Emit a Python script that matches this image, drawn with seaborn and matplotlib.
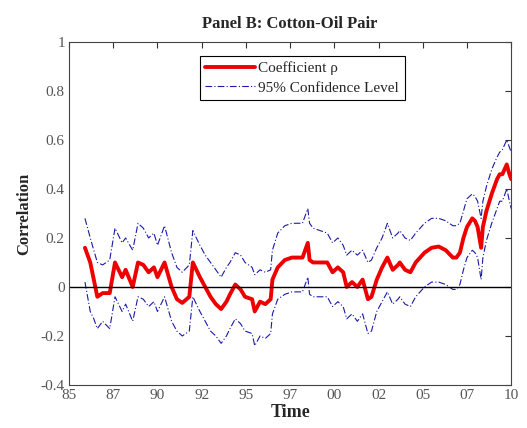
import numpy as np
import pandas as pd
import matplotlib
matplotlib.use("Agg")
import matplotlib.pyplot as plt
import seaborn as sns

# ---- data ----
years = [1985.9, 1986.2, 1986.4, 1986.6, 1986.9, 1987.3, 1987.6, 1988.0, 1988.2, 1988.6,
         1988.9, 1989.2, 1989.5, 1989.8, 1990.0, 1990.4, 1990.8, 1991.1, 1991.4, 1991.8,
         1992.0, 1992.4, 1992.7, 1993.0, 1993.3, 1993.6, 1993.9, 1994.1, 1994.4, 1994.7,
         1994.95, 1995.35, 1995.5, 1995.8, 1996.1, 1996.4, 1996.5, 1996.8, 1997.2, 1997.6,
         1998.2, 1998.5, 1998.6, 1998.8, 1999.6, 1999.9, 2000.2, 2000.5, 2000.7, 2001.0,
         2001.3, 2001.6, 2001.9, 2002.1, 2002.4, 2002.7, 2003.0, 2003.3, 2003.6, 2003.7,
         2004.0, 2004.3, 2004.6, 2004.85, 2005.1, 2005.5, 2005.9, 2006.3, 2006.7, 2006.9,
         2007.1, 2007.3, 2007.5, 2007.8, 2007.95, 2008.1, 2008.3, 2008.4, 2008.6, 2008.9,
         2009.2, 2009.35, 2009.5, 2009.75, 2009.9, 2010.0]
rho = [0.16, 0.10, 0.03, -0.04, -0.025, -0.025, 0.10, 0.04, 0.07, 0.0,
       0.10, 0.09, 0.06, 0.08, 0.04, 0.10, 0.0, -0.05, -0.065, -0.04,
       0.10, 0.04, 0.0, -0.04, -0.07, -0.09, -0.06, -0.03, 0.01, -0.01,
       -0.04, -0.05, -0.10, -0.06, -0.07, -0.05, 0.03, 0.08, 0.11, 0.12,
       0.12, 0.18, 0.11, 0.10, 0.10, 0.06, 0.08, 0.06, 0.0, 0.02,
       0.0, 0.03, -0.05, -0.04, 0.03, 0.08, 0.12, 0.07, 0.09, 0.10,
       0.07, 0.06, 0.10, 0.12, 0.14, 0.16, 0.165, 0.15, 0.12, 0.12,
       0.14, 0.20, 0.245, 0.28, 0.27, 0.245, 0.16, 0.245, 0.31, 0.38,
       0.44, 0.46, 0.46, 0.50, 0.46, 0.44]
upper = [0.28, 0.20, 0.15, 0.10, 0.09, 0.11, 0.24, 0.18, 0.20, 0.15,
         0.26, 0.24, 0.20, 0.22, 0.17, 0.25, 0.14, 0.08, 0.06, 0.09,
         0.23, 0.17, 0.13, 0.10, 0.07, 0.04, 0.08, 0.10, 0.14, 0.13,
         0.10, 0.08, 0.05, 0.07, 0.06, 0.07, 0.15, 0.22, 0.25, 0.26,
         0.26, 0.32, 0.26, 0.24, 0.22, 0.18, 0.20, 0.17, 0.13, 0.15,
         0.13, 0.15, 0.10, 0.11, 0.16, 0.20, 0.26, 0.20, 0.22, 0.23,
         0.20, 0.19, 0.22, 0.24, 0.26, 0.28, 0.28, 0.27, 0.25, 0.25,
         0.26, 0.31, 0.36, 0.38, 0.37, 0.35, 0.28, 0.35, 0.41, 0.48,
         0.53, 0.55, 0.56, 0.60, 0.57, 0.55]
lower = [0.02, -0.10, -0.13, -0.17, -0.14, -0.17, -0.04, -0.10, -0.07, -0.14,
         -0.04, -0.05, -0.08, -0.06, -0.10, -0.04, -0.14, -0.18, -0.20, -0.18,
         -0.04, -0.10, -0.14, -0.18, -0.20, -0.23, -0.20, -0.17, -0.13, -0.15,
         -0.18, -0.19, -0.24, -0.20, -0.21, -0.19, -0.11, -0.05, -0.03, -0.02,
         -0.02, 0.04, -0.03, -0.04, -0.04, -0.08, -0.06, -0.08, -0.13, -0.11,
         -0.14, -0.11, -0.19, -0.18, -0.10, -0.06, -0.02, -0.07, -0.05, -0.04,
         -0.07, -0.08, -0.04, -0.02, 0.0, 0.02, 0.02, 0.01, -0.01, -0.01,
         0.01, 0.07, 0.12, 0.15, 0.14, 0.12, 0.03, 0.12, 0.19, 0.26,
         0.32, 0.35, 0.35, 0.40, 0.35, 0.32]
xtick_pos = [1985, 1987.5, 1990, 1992.5, 1995, 1997.5, 2000, 2002.5, 2005, 2007.5, 2010]
xtick_labels = ["85", "87", "90", "92", "95", "97", "00", "02", "05", "07", "10"]
ytick_pos = [-0.4, -0.2, 0, 0.2, 0.4, 0.6, 0.8, 1.0]
ytick_labels = ["-0.4", "-0.2", "0", "0.2", "0.4", "0.6", "0.8", "1"]

df = pd.DataFrame({"year": years, "rho": rho, "upper": upper, "lower": lower})

sns.set_theme(style="white")
plt.rcParams["font.family"] = ["Liberation Serif", "DejaVu Serif"]

fig = plt.figure(figsize=(5.27, 4.28), dpi=100)
ax = fig.add_axes([0.131, 0.1005, 0.839, 0.8015])

sns.lineplot(data=df, x="year", y="upper", ax=ax, color="#1a1aa8", lw=0.8,
             linestyle=(0, (6, 2, 1, 2)), label="95% Confidence Level")
sns.lineplot(data=df, x="year", y="lower", ax=ax, color="#1a1aa8", lw=0.8,
             linestyle=(0, (6, 2, 1, 2)))
sns.lineplot(data=df, x="year", y="rho", ax=ax, color="#ee0000", lw=2.8,
             label="Coefficient \u03c1")
ax.axhline(0, color="black", lw=1.0)

ax.set_xlim(1985, 2010)
ax.set_ylim(-0.4, 1.0)
ax.set_xticks(xtick_pos)
ax.set_xticklabels(xtick_labels)
ax.set_yticks(ytick_pos)
ax.set_yticklabels(ytick_labels)
ax.tick_params(direction="in", length=4, width=0.8, top=True, right=True,
               labelsize=11, labelcolor="#555555", pad=3, color="#333333")
for s in ax.spines.values():
    s.set_color("#444444")
    s.set_linewidth(0.8)

ax.set_xlabel("Time", fontsize=13, fontweight="bold", labelpad=1)
ax.set_ylabel("Correlation", fontsize=12, fontweight="bold", labelpad=6)
ax.set_title("Panel B: Cotton-Oil Pair", fontsize=12, fontweight="bold", pad=10)

handles, labels = ax.get_legend_handles_labels()
order = [labels.index("Coefficient \u03c1"), labels.index("95% Confidence Level")]
leg = ax.legend([handles[i] for i in order], [labels[i] for i in order],
                loc="upper center", bbox_to_anchor=(0.527, 0.958), fontsize=11,
                frameon=True, fancybox=False, edgecolor="black", framealpha=1,
                handlelength=3.3, borderpad=0.35, labelspacing=0.35, handletextpad=0.2,
                borderaxespad=0)
leg.get_frame().set_linewidth(0.8)

fig.savefig("out.png", dpi=100)
